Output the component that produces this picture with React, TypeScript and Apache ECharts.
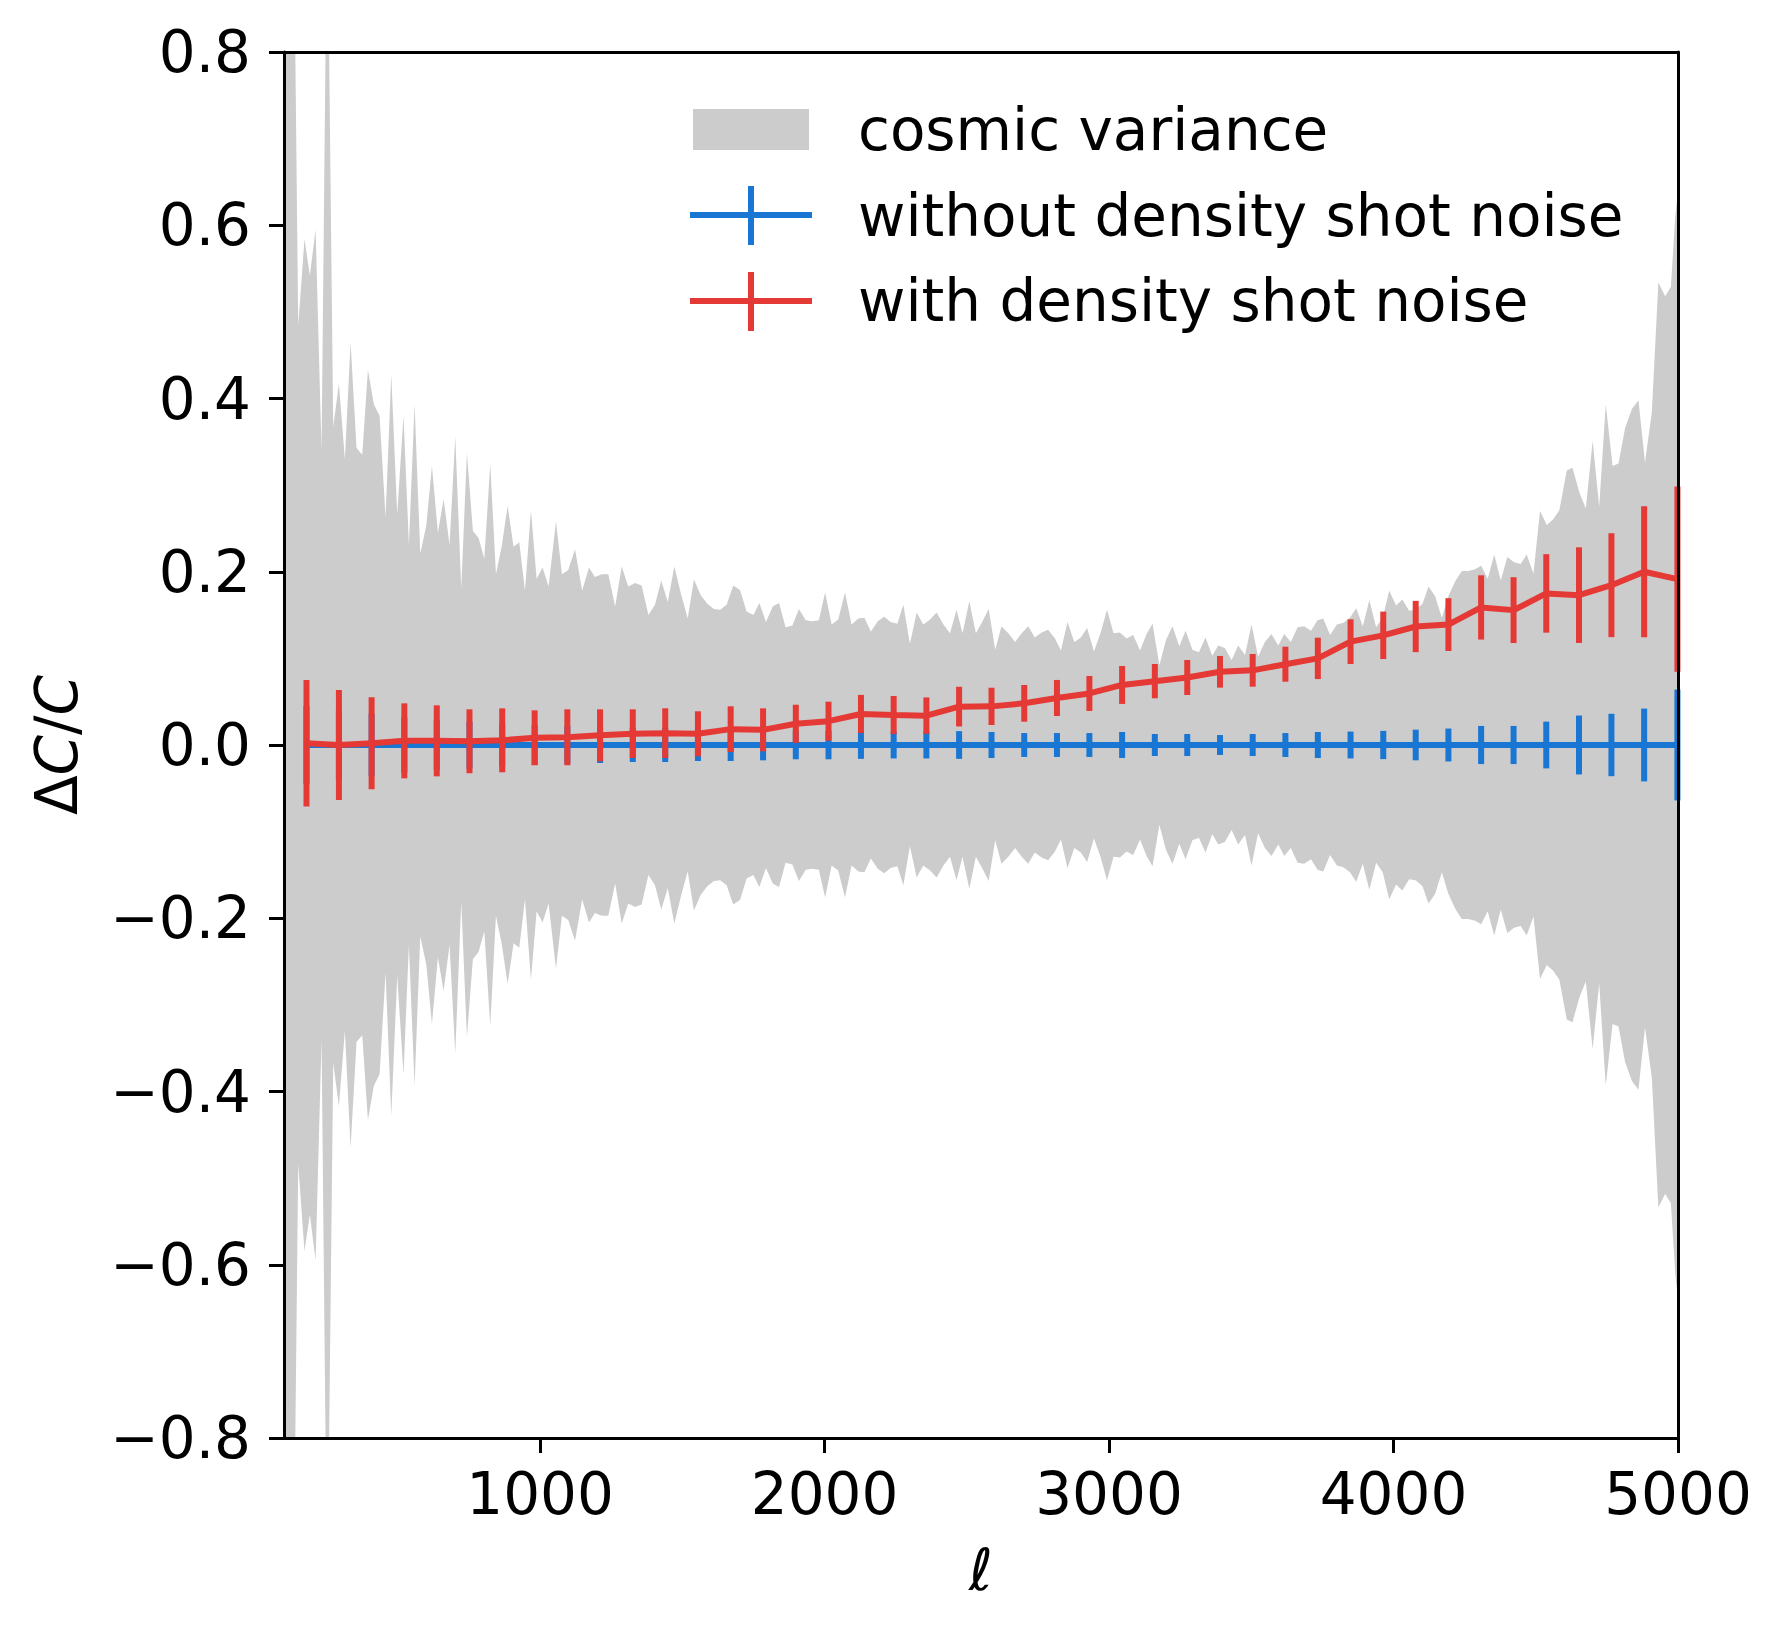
import React, { useEffect, useRef } from "react";
import * as echarts from "echarts";

// ---------------- data ----------------
const xTicks = [1000, 2000, 3000, 4000, 5000];

const binEll = [
  179, 293, 408, 523, 637, 752, 867, 981, 1096, 1211, 1326, 1440, 1555, 1670,
  1784, 1899, 2014, 2128, 2243, 2358, 2473, 2587, 2702, 2817, 2931, 3046, 3161,
  3275, 3390, 3505, 3620, 3734, 3849, 3964, 4078, 4193, 4308, 4422, 4537, 4652,
  4766, 4881, 4998,
];

const redMean = [
  0.002, 0.0, 0.002, 0.0048, 0.0048, 0.0043, 0.0054, 0.0083, 0.0089, 0.0112,
  0.0131, 0.0137, 0.0129, 0.0183, 0.0175, 0.0245, 0.0275, 0.0358, 0.0346,
  0.0339, 0.0443, 0.0446, 0.0481, 0.0543, 0.0595, 0.0693, 0.0737, 0.0779,
  0.0845, 0.0862, 0.0933, 0.1, 0.1193, 0.1266, 0.1368, 0.139, 0.1588, 0.1557,
  0.175, 0.173, 0.1845, 0.2, 0.1915,
];

const redErr = [
  0.073, 0.0635, 0.0531, 0.0433, 0.041, 0.0369, 0.0369, 0.0317, 0.0323, 0.03,
  0.0281, 0.0287, 0.026, 0.0264, 0.0248, 0.022, 0.0225, 0.022, 0.022, 0.021,
  0.0229, 0.0215, 0.0212, 0.0208, 0.0202, 0.0219, 0.0198, 0.0202, 0.0183,
  0.0189, 0.0202, 0.0239, 0.0258, 0.0274, 0.0296, 0.0305, 0.0371, 0.038,
  0.0453, 0.0552, 0.06, 0.0755, 0.107,
];

const blueMean = [
  0, 0, 0, 0, 0, 0, 0, 0, 0, 0, 0, 0, 0, 0, 0, 0, 0, 0, 0, 0, 0, 0, 0, 0, 0, 0,
  0, 0, 0, 0, 0, 0, 0, 0, 0, 0, 0, 0, 0, 0, 0, 0, 0,
];

const blueErr = [
  0.045, 0.04, 0.036, 0.032, 0.029, 0.027, 0.025, 0.023, 0.022, 0.0208, 0.0196,
  0.0196, 0.0185, 0.0185, 0.0177, 0.0165, 0.0165, 0.016, 0.0155, 0.0155, 0.016,
  0.015, 0.0138, 0.0138, 0.0138, 0.015, 0.0127, 0.0127, 0.0115, 0.0127, 0.0138,
  0.015, 0.0155, 0.0163, 0.0177, 0.019, 0.022, 0.022, 0.027, 0.034, 0.036,
  0.042, 0.064,
];

const cvEll = [
  100, 130, 150, 172, 191, 211, 232, 252, 273, 293, 314, 334, 355, 375, 395, 416,
  436, 457, 477, 498, 520, 539, 559, 579, 600, 620, 641, 661, 682, 702, 723, 743,
  764, 784, 804, 825, 845, 866, 886, 907, 927, 947, 968, 988, 1009, 1030, 1056,
  1077, 1099, 1123, 1148, 1172, 1193, 1217, 1240, 1264, 1287, 1310, 1334, 1357,
  1381, 1404, 1426, 1449, 1472, 1495, 1519, 1541, 1565, 1588, 1611, 1633, 1656,
  1679, 1703, 1726, 1750, 1771, 1794, 1818, 1840, 1863, 1887, 1910, 1934, 1957,
  1980, 2002, 2025, 2048, 2072, 2095, 2119, 2140, 2163, 2187, 2210, 2232, 2256,
  2277, 2300, 2324, 2347, 2371, 2394, 2418, 2441, 2464, 2485, 2509, 2532, 2554,
  2577, 2600, 2622, 2646, 2670, 2693, 2716, 2739, 2763, 2786, 2810, 2831, 2854,
  2878, 2901, 2923, 2947, 2970, 2993, 3016, 3038, 3062, 3085, 3109, 3132, 3153,
  3177, 3200, 3223, 3247, 3269, 3293, 3316, 3339, 3363, 3384, 3407, 3431, 3454,
  3478, 3501, 3524, 3548, 3571, 3595, 3616, 3639, 3663, 3686, 3710, 3733, 3753,
  3777, 3801, 3824, 3847, 3869, 3892, 3915, 3939, 3962, 3985, 4009, 4031, 4055,
  4078, 4102, 4123, 4146, 4170, 4193, 4217, 4240, 4263, 4287, 4308, 4331, 4354,
  4377, 4400, 4424, 4447, 4468, 4492, 4515, 4539, 4562, 4583, 4609, 4629, 4654,
  4676, 4700, 4723, 4746, 4770, 4791, 4814, 4838, 4861, 4884, 4908, 4931, 4955,
  4975, 4990, 5000,
];

const cvSigma = [
  1.4, 1.1, 0.484, 0.584, 0.542, 0.595, 0.34, 1.0, 0.367, 0.417, 0.33, 0.465,
  0.343, 0.335, 0.433, 0.393, 0.38, 0.263, 0.428, 0.266, 0.38, 0.231, 0.393,
  0.221, 0.253, 0.322, 0.245, 0.284, 0.231, 0.356, 0.181, 0.337, 0.247, 0.239,
  0.215, 0.324, 0.197, 0.231, 0.276, 0.229, 0.234, 0.178, 0.271, 0.192, 0.205,
  0.183, 0.258, 0.197, 0.202, 0.226, 0.178, 0.205, 0.194, 0.197, 0.197, 0.16,
  0.206, 0.183, 0.187, 0.184, 0.15, 0.162, 0.19, 0.165, 0.206, 0.175, 0.146,
  0.191, 0.173, 0.163, 0.157, 0.156, 0.162, 0.184, 0.179, 0.154, 0.15, 0.164,
  0.142, 0.16, 0.164, 0.136, 0.138, 0.157, 0.144, 0.143, 0.144, 0.176, 0.139,
  0.145, 0.176, 0.139, 0.146, 0.147, 0.131, 0.143, 0.148, 0.142, 0.14, 0.162,
  0.117, 0.153, 0.139, 0.145, 0.153, 0.139, 0.129, 0.156, 0.129, 0.166, 0.129,
  0.142, 0.157, 0.11, 0.137, 0.129, 0.119, 0.129, 0.137, 0.124, 0.13, 0.133,
  0.123, 0.109, 0.142, 0.119, 0.124, 0.135, 0.108, 0.129, 0.156, 0.129, 0.13,
  0.123, 0.127, 0.109, 0.128, 0.14, 0.092, 0.121, 0.137, 0.114, 0.132, 0.11,
  0.107, 0.124, 0.103, 0.115, 0.112, 0.098, 0.115, 0.104, 0.139, 0.102, 0.119,
  0.128, 0.115, 0.128, 0.119, 0.136, 0.137, 0.132, 0.144, 0.146, 0.127, 0.139,
  0.141, 0.147, 0.158, 0.137, 0.167, 0.136, 0.147, 0.178, 0.161, 0.168, 0.155,
  0.156, 0.163, 0.183, 0.172, 0.147, 0.172, 0.189, 0.201, 0.201, 0.203, 0.207,
  0.192, 0.22, 0.19, 0.217, 0.211, 0.209, 0.22, 0.198, 0.27, 0.254, 0.261,
  0.271, 0.317, 0.32, 0.291, 0.273, 0.351, 0.275, 0.393, 0.322, 0.325, 0.366,
  0.388, 0.398, 0.326, 0.384, 0.534, 0.518, 0.529, 0.609, 0.64,
];

const legendLabels = [
  "cosmic variance",
  "without density shot noise",
  "with density shot noise",
];

const RED = "#e53935";
const BLUE = "#1976d2";
const GREY = "#cccccc";
const FONT = "DejaVu Sans";

function fmtY(v: number): string {
  if (Math.abs(v) < 1e-9) return "0.0";
  const s = Math.abs(v).toFixed(1);
  return v < 0 ? "\u2212" + s : s;
}

function fmtX(v: number): string {
  return String(Math.round(v));
}

function errorBarSeries(name: string, means: number[], errs: number[], color: string, z: number) {
  return {
    type: "custom",
    name,
    z,
    silent: true,
    clip: false,
    encode: { x: 0, y: 1 },
    data: binEll.map((l, i) => [l, means[i], errs[i]]),
    renderItem: (params: any, api: any) => {
      const x = api.value(0);
      const m = api.value(1);
      const e = api.value(2);
      const p1 = api.coord([x, m - e]);
      const p2 = api.coord([x, m + e]);
      return {
        type: "line",
        shape: { x1: p1[0], y1: p1[1], x2: p2[0], y2: p2[1] },
        style: { stroke: color, lineWidth: 6, lineCap: "butt" },
      };
    },
  };
}

export default function App() {
  const ref = useRef<HTMLDivElement>(null);

  useEffect(() => {
    if (!ref.current) return;
    const chart = echarts.init(ref.current, undefined, { renderer: "svg" });

    const axisLineStyle = { color: "#000", width: 3 };
    const labelStyle = { fontSize: 58, color: "#000", fontFamily: FONT };

    const option: any = {
      animation: false,
      backgroundColor: "#fff",
      grid: {
        left: 284,
        right: 104,
        top: 52,
        bottom: 199,
        containLabel: false,
        outerBoundsMode: "none",
      },
      xAxis: [
        {
          type: "value",
          min: 100,
          max: 5000,
          position: "bottom",
          z: 10,
          axisLine: { show: true, onZero: false, lineStyle: axisLineStyle },
          axisTick: {
            show: true,
            customValues: xTicks,
            length: 15,
            lineStyle: { color: "#000", width: 3 },
          },
          axisLabel: {
            show: true,
            customValues: xTicks,
            margin: 27,
            formatter: (v: number) => fmtX(v),
            ...labelStyle,
          },
          splitLine: { show: false },
          name: "\u2113",
          nameLocation: "middle",
          nameGap: 103,
          nameTextStyle: { ...labelStyle, fontStyle: "italic" },
        },
        {
          type: "value",
          min: 100,
          max: 5000,
          position: "top",
          z: 10,
          axisLine: { show: true, onZero: false, lineStyle: axisLineStyle },
          axisTick: { show: false },
          axisLabel: { show: false },
          splitLine: { show: false },
        },
      ],
      yAxis: [
        {
          type: "value",
          min: -0.8,
          max: 0.8,
          interval: 0.2,
          position: "left",
          z: 10,
          axisLine: { show: true, onZero: false, lineStyle: axisLineStyle },
          axisTick: {
            show: true,
            length: 15,
            lineStyle: { color: "#000", width: 3 },
          },
          axisLabel: {
            show: true,
            margin: 33,
            showMinLabel: true,
            showMaxLabel: true,
            formatter: (v: number) => fmtY(v),
            ...labelStyle,
          },
          splitLine: { show: false },
          name: "{u|\u0394}{i|C}{u|/}{i|C}",
          nameLocation: "middle",
          nameGap: 198,
          nameRotate: 90,
          nameTextStyle: {
            color: "#000",
            rich: {
              u: { fontSize: 58, fontFamily: FONT, color: "#000" },
              i: { fontSize: 58, fontFamily: FONT, fontStyle: "italic", color: "#000" },
            },
          },
        },
        {
          type: "value",
          min: -0.8,
          max: 0.8,
          position: "right",
          z: 10,
          axisLine: { show: true, onZero: false, lineStyle: axisLineStyle },
          axisTick: { show: false },
          axisLabel: { show: false },
          splitLine: { show: false },
        },
      ],
      series: [
        {
          type: "custom",
          name: "cosmic variance",
          z: 1,
          silent: true,
          clip: true,
          encode: { x: 0, y: 1 },
          data: cvEll.map((l, i) => [l, cvSigma[i]]),
          renderItem: (params: any, api: any) => {
            if (params.dataIndex !== 0) return null;
            const pts: number[][] = [];
            for (let i = 0; i < cvEll.length; i++) {
              pts.push(api.coord([cvEll[i], cvSigma[i]]));
            }
            for (let i = cvEll.length - 1; i >= 0; i--) {
              pts.push(api.coord([cvEll[i], -cvSigma[i]]));
            }
            return {
              type: "polygon",
              shape: { points: pts },
              style: { fill: GREY, stroke: null },
            };
          },
        },
        {
          type: "line",
          name: "without density shot noise",
          z: 2,
          silent: true,
          showSymbol: false,
          symbol: "none",
          data: binEll.map((l, i) => [l, blueMean[i]]),
          lineStyle: { color: BLUE, width: 6 },
          itemStyle: { color: BLUE },
        },
        errorBarSeries("without density shot noise bars", blueMean, blueErr, BLUE, 3),
        {
          type: "line",
          name: "with density shot noise",
          z: 4,
          silent: true,
          showSymbol: false,
          symbol: "none",
          data: binEll.map((l, i) => [l, redMean[i]]),
          lineStyle: { color: RED, width: 6 },
          itemStyle: { color: RED },
        },
        errorBarSeries("with density shot noise bars", redMean, redErr, RED, 5),
      ],
      graphic: [
        {
          type: "rect",
          shape: { x: 693, y: 109, width: 116, height: 41 },
          style: { fill: GREY },
          z: 20,
        },
        {
          type: "line",
          shape: { x1: 690, y1: 215, x2: 812, y2: 215 },
          style: { stroke: BLUE, lineWidth: 6 },
          z: 20,
        },
        {
          type: "line",
          shape: { x1: 751, y1: 186, x2: 751, y2: 245 },
          style: { stroke: BLUE, lineWidth: 6 },
          z: 20,
        },
        {
          type: "line",
          shape: { x1: 690, y1: 301, x2: 812, y2: 301 },
          style: { stroke: RED, lineWidth: 6 },
          z: 20,
        },
        {
          type: "line",
          shape: { x1: 751, y1: 272, x2: 751, y2: 331 },
          style: { stroke: RED, lineWidth: 6 },
          z: 20,
        },
        ...legendLabels.map((t, i) => ({
          type: "text",
          x: 858,
          y: 130 + i * 85.5,
          z: 20,
          style: {
            text: t,
            fontSize: 58,
            fontFamily: FONT,
            fill: "#000",
            align: "left",
            verticalAlign: "middle",
          },
        })),
      ],
    };

    chart.setOption(option);
    return () => {
      chart.dispose();
    };
  }, []);

  return (
    <div
      ref={ref}
      style={{
        position: "absolute",
        left: 0,
        top: 0,
        width: 1782,
        height: 1637,
        background: "#fff",
      }}
    />
  );
}
